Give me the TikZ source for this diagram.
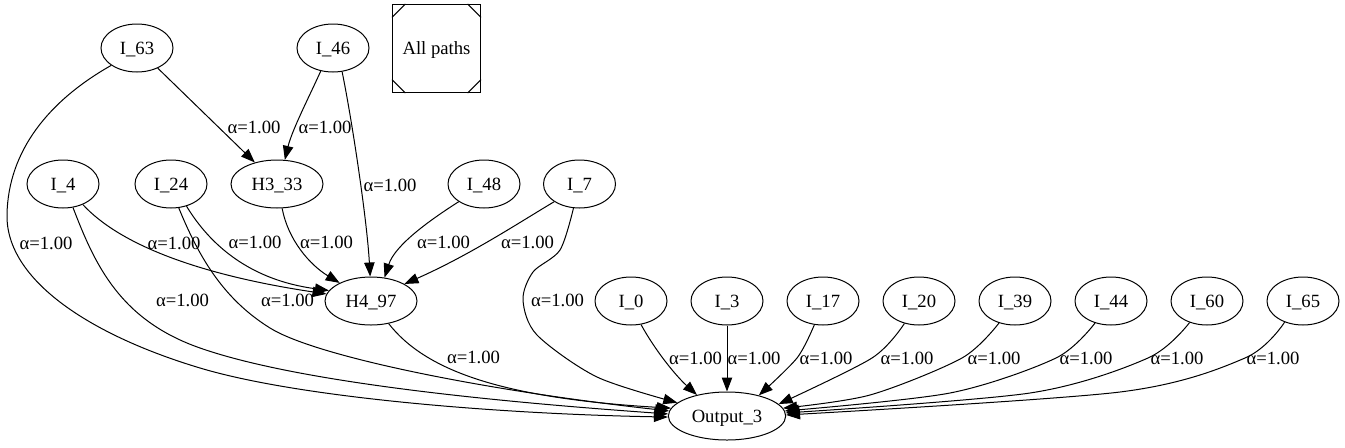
\documentclass[tikz,border=0pt]{standalone}
\usepackage{fontspec}
\setmainfont{Liberation Serif}
\usetikzlibrary{arrows.meta,shapes.geometric}
\begin{document}
\begin{tikzpicture}[x=0.75pt,y=-0.75pt,
  every node/.style={font=\fontsize{14}{16}\selectfont, text height=9.3pt, text depth=0pt},
  nd/.style={ellipse, draw, line width=0.75pt, minimum width=54pt, minimum height=36pt, inner sep=0pt},
  wide/.style={nd, minimum width=69pt},
  lab/.style={inner sep=0pt},
  edge/.style={line width=0.75pt, -{Triangle[length=10.5pt,width=7.8pt]}},
  thin/.style={line width=0.75pt}
]
\useasboundingbox (0,0) rectangle (1345,447);
% row 1
\node[nd] (I63) at (137,48) {I\_63};
\node[nd] (I46) at (333,48) {I\_46};
\node[draw, thin, minimum width=66pt, minimum height=66pt, inner sep=0pt] (AP) at (436.5,48.5) {All paths};
\draw[thin] ([yshift=-10pt]AP.north west) -- ([xshift=10pt]AP.north west);
\draw[thin] ([yshift=-10pt]AP.north east) -- ([xshift=-10pt]AP.north east);
\draw[thin] ([yshift=10pt]AP.south west) -- ([xshift=10pt]AP.south west);
\draw[thin] ([yshift=10pt]AP.south east) -- ([xshift=-10pt]AP.south east);
% row 2
\node[nd] (I4) at (63,184) {I\_4};
\node[nd] (I24) at (171,184) {I\_24};
\node[wide] (H333) at (277,184) {H3\_33};
\node[nd] (I48) at (484,184) {I\_48};
\node[nd] (I7) at (579.5,184) {I\_7};
% row 3
\node[wide] (H497) at (371,301) {H4\_97};
\node[nd] (I0) at (631,301) {I\_0};
\node[nd] (I3) at (727,301) {I\_3};
\node[nd] (I17) at (823,301) {I\_17};
\node[nd] (I20) at (919,301) {I\_20};
\node[nd] (I39) at (1015,301) {I\_39};
\node[nd] (I44) at (1111,301) {I\_44};
\node[nd] (I60) at (1207,301) {I\_60};
\node[nd] (I65) at (1303,301) {I\_65};
% row 4
\node[nd, minimum width=88pt] (Output3) at (727,416) {Output\_3};

% edges
\draw[edge] (I63) -- (H333);
\draw[edge] (I46.242) .. controls (310,95) and (292,130) .. (H333.72);
\draw[edge] (I46.291) .. controls (352,120) and (367,220) .. (H497.92);
\draw[edge] (I63.214) .. controls (50,100) and (8,150) .. (7,215)
  .. controls (6,280) and (90,335) .. (200,368)
  .. controls (300,398) and (500,414) .. (Output3.181);
\draw[edge] (I4.314) .. controls (120,245) and (200,275) .. (H497.171);
\draw[edge] (I4.293) .. controls (95,265) and (120,320) .. (200,348)
  .. controls (300,383) and (500,402) .. (Output3.178);
\draw[edge] (I24.305) .. controls (210,245) and (250,280) .. (H497.166);
\draw[edge] (I24.288) .. controls (200,260) and (225,300) .. (270,328)
  .. controls (315,356) and (480,390) .. (Output3.175);
\draw[edge] (H333.282) .. controls (288,240) and (310,265) .. (H497.150);
\draw[edge] (I48.215) .. controls (430,220) and (395,245) .. (H497.60);
\draw[edge] (I7.215) .. controls (520,222) and (470,255) .. (H497.27);
\draw[edge] plot[smooth] coordinates {(I7.256) (560,250) (533,272) (523,300) (537,335) (597,377) (Output3.165)};
\draw[edge] (H497.308) .. controls (425,370) and (500,398) .. (Output3.172);
\draw[edge] (I0.293) .. controls (655,350) and (675,375) .. (Output3.145);
\draw[edge] (I3) -- (Output3);
\draw[edge] plot[smooth] coordinates {(I17.250) (797,358) (Output3.33)};
\draw[edge] plot[smooth] coordinates {(I20.237) (872,358) (Output3.13)};
\draw[edge] plot[smooth] coordinates {(I39.234) (962,358) (870,395) (Output3.8)};
\draw[edge] plot[smooth] coordinates {(I44.234) (1056,358) (950,393) (Output3.5)};
\draw[edge] plot[smooth] coordinates {(I60.231) (1148,358) (1030,393) (Output3.3)};
\draw[edge] plot[smooth] coordinates {(I65.229) (1245,358) (1120,392) (Output3.1.5)};

% labels
\node[lab] (l1) at (254,127) {α=1.00};
\node[lab] (l2) at (325,127) {α=1.00};
\node[lab] (l3) at (390,185) {α=1.00};
\node[lab] (l4) at (46,243) {α=1.00};
\node[lab] (l5) at (174,243) {α=1.00};
\node[lab] (l6) at (182.5,300) {α=1.00};
\node[lab] (l7) at (255,242) {α=1.00};
\node[lab] (l8) at (287.5,300) {α=1.00};
\node[lab] (l9) at (326.5,242) {α=1.00};
\node[lab] (l10) at (443.5,242) {α=1.00};
\node[lab] (l11) at (527.5,242) {α=1.00};
\node[lab] (l12) at (557.5,300) {α=1.00};
\node[lab] (l13) at (473.5,357) {α=1.00};
\node[lab] (l14) at (695.5,358) {α=1.00};
\node[lab] (l15) at (754,358) {α=1.00};
\node[lab] (l16) at (826,358) {α=1.00};
\node[lab] (l17) at (907,358) {α=1.00};
\node[lab] (l18) at (994,358) {α=1.00};
\node[lab] (l19) at (1086,358) {α=1.00};
\node[lab] (l20) at (1177,358) {α=1.00};
\node[lab] (l21) at (1273,358) {α=1.00};
\end{tikzpicture}
\end{document}
